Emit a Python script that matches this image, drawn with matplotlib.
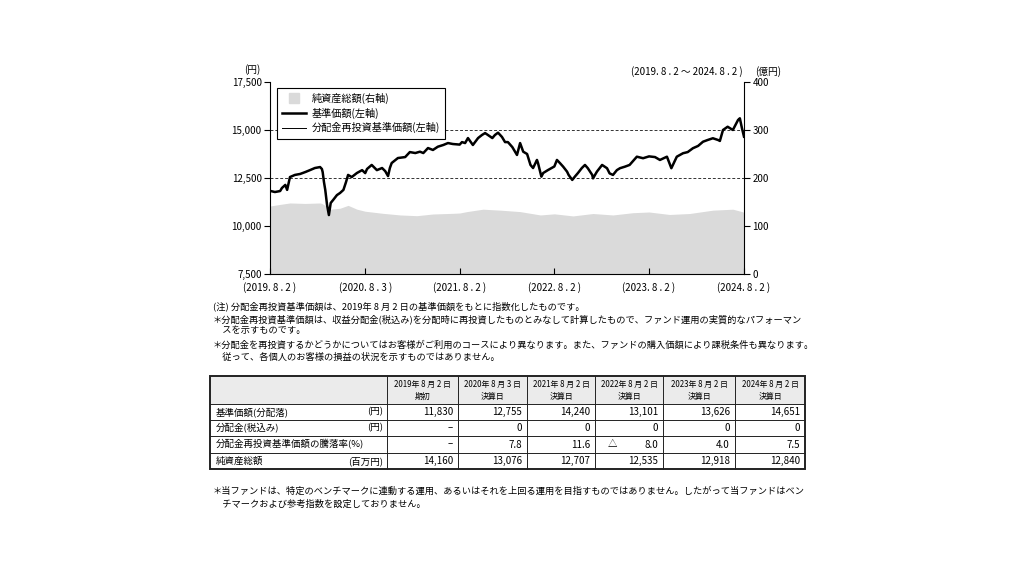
import matplotlib
matplotlib.use("Agg")
import matplotlib.pyplot as plt
import pandas as pd
from matplotlib.lines import Line2D

plt.rcParams['font.family'] = ['Noto Sans CJK JP', 'DejaVu Sans']

# ---------------- data ----------------
price_dates = [
    "2019-08-02", "2019-08-21", "2019-09-10", "2019-09-17", "2019-09-30", "2019-10-07", "2019-10-18",
    "2019-11-06", "2019-11-26", "2019-12-16", "2020-01-03", "2020-01-22", "2020-02-11", "2020-02-18",
    "2020-02-21", "2020-02-26", "2020-03-02", "2020-03-09", "2020-03-16", "2020-03-23", "2020-04-01",
    "2020-04-16", "2020-04-28", "2020-05-11", "2020-05-21", "2020-05-29", "2020-06-12", "2020-07-02",
    "2020-07-22", "2020-08-03", "2020-08-10", "2020-08-28", "2020-09-17", "2020-10-07", "2020-10-19",
    "2020-10-30", "2020-11-06", "2020-11-13", "2020-12-07", "2021-01-04", "2021-01-22", "2021-02-12",
    "2021-03-02", "2021-03-15", "2021-04-02", "2021-04-21", "2021-05-10", "2021-05-31", "2021-06-18",
    "2021-07-07", "2021-08-02", "2021-08-11", "2021-08-23", "2021-09-03", "2021-09-22", "2021-10-12",
    "2021-10-27", "2021-11-08", "2021-11-19", "2021-12-06", "2021-12-16", "2021-12-28", "2022-01-12",
    "2022-01-24", "2022-02-04", "2022-02-21", "2022-03-11", "2022-03-23", "2022-04-04", "2022-04-19",
    "2022-05-02", "2022-05-12", "2022-05-27", "2022-05-31", "2022-06-13", "2022-06-20", "2022-07-08",
    "2022-08-02", "2022-08-12", "2022-08-24", "2022-09-05", "2022-09-20", "2022-09-26", "2022-10-10",
    "2022-10-20", "2022-11-01", "2022-11-16", "2022-11-28", "2022-12-09", "2022-12-26", "2022-12-29",
    "2023-01-13", "2023-02-02", "2023-02-21", "2023-03-03", "2023-03-16", "2023-03-31", "2023-04-12",
    "2023-05-01", "2023-05-19", "2023-06-16", "2023-07-10", "2023-08-02", "2023-08-25", "2023-09-13",
    "2023-10-10", "2023-10-27", "2023-11-17", "2023-12-11", "2023-12-29", "2024-01-18", "2024-02-07",
    "2024-02-26", "2024-03-15", "2024-04-04", "2024-04-24", "2024-05-01", "2024-05-13", "2024-05-31",
    "2024-06-20", "2024-07-10", "2024-07-17", "2024-07-25", "2024-08-02",
]
price_values = [
    11830, 11770, 11820, 11980, 12140, 11880, 12550,
    12660, 12710, 12810, 12910, 13020, 13070, 12970,
    12810, 12290, 11880, 11090, 10570, 11200, 11350,
    11610, 11720, 11880, 12290, 12660, 12550, 12760,
    12910, 12755, 12970, 13180, 12910, 13020, 12860,
    12600, 13020, 13280, 13540, 13590, 13850, 13800,
    13870, 13800, 14060, 13960, 14130, 14220, 14320,
    14270, 14240, 14370, 14320, 14580, 14220, 14580,
    14740, 14840, 14740, 14580, 14740, 14860, 14640,
    14370, 14370, 14110, 13700, 14320, 13870, 13750,
    13180, 13020, 13440, 13280, 12570, 12760, 12910,
    13101, 13440, 13270, 13090, 12830, 12660, 12400,
    12570, 12760, 13020, 13180, 13010, 12660, 12480,
    12830, 13180, 13010, 12740, 12660, 12910, 13010,
    13090, 13180, 13610, 13530, 13626, 13590, 13440,
    13610, 13010, 13610, 13790, 13850, 14050, 14170,
    14390, 14480, 14570, 14480, 14430, 15000, 15170,
    15000, 15520, 15610, 15100, 14651,
]
# no distributions were paid, so the reinvested NAV equals the NAV
reinvest_values = list(price_values)

asset_dates = [
    "2019-08-02", "2019-09-10", "2019-10-18", "2019-12-16", "2020-02-11", "2020-02-18", "2020-03-09",
    "2020-03-23", "2020-04-28", "2020-05-29", "2020-07-02", "2020-08-03", "2020-10-10", "2020-12-16",
    "2021-02-18", "2021-04-21", "2021-07-07", "2021-08-02", "2021-08-30", "2021-10-31", "2022-01-06",
    "2022-03-23", "2022-06-09", "2022-08-02", "2022-10-13", "2022-12-29", "2023-03-16", "2023-06-01",
    "2023-08-02", "2023-10-20", "2024-01-05", "2024-04-04", "2024-06-20", "2024-07-25", "2024-08-02",
]
asset_values = [  # 億円
    141.6, 145, 148, 147, 148, 147, 140,
    135, 137, 143, 135, 130.76, 126.4, 123,
    121.5, 125, 126.4, 127.07, 130, 135, 133,
    130, 123, 125.35, 121, 126, 123, 127.7,
    129.18, 124, 126, 133, 135, 130, 128.4,
]

x_tick_dates = ["2019-08-02", "2020-08-03", "2021-08-02", "2022-08-02", "2023-08-02", "2024-08-02"]
x_tick_labels = ["(2019. 8 . 2 )", "(2020. 8 . 3 )", "(2021. 8 . 2 )",
                 "(2022. 8 . 2 )", "(2023. 8 . 2 )", "(2024. 8 . 2 )"]
left_ticks = [7500, 10000, 12500, 15000, 17500]
right_ticks = [0, 100, 200, 300, 400]
ref_levels = [12500, 15000]

legend_labels = ["純資産総額(右軸)", "基準価額(左軸)", "分配金再投資基準価額(左軸)"]

notes_top = [
    "(注) 分配金再投資基準価額は、2019年 8 月 2 日の基準価額をもとに指数化したものです。",
    "＊分配金再投資基準価額は、収益分配金(税込み)を分配時に再投資したものとみなして計算したもので、ファンド運用の実質的なパフォーマン",
    "　スを示すものです。",
    "＊分配金を再投資するかどうかについてはお客様がご利用のコースにより異なります。また、ファンドの購入価額により課税条件も異なります。",
    "　従って、各個人のお客様の損益の状況を示すものではありません。",
]
notes_bottom = [
    "＊当ファンドは、特定のベンチマークに連動する運用、あるいはそれを上回る運用を目指すものではありません。したがって当ファンドはベン",
    "　チマークおよび参考指数を設定しておりません。",
]

table_dates = ["2019年 8 月 2 日", "2020年 8 月 3 日", "2021年 8 月 2 日",
               "2022年 8 月 2 日", "2023年 8 月 2 日", "2024年 8 月 2 日"]
table_kinds = ["期初", "決算日", "決算日", "決算日", "決算日", "決算日"]
row_labels = ["基準価額(分配落)", "分配金(税込み)", "分配金再投資基準価額の騰落率(%)", "純資産総額"]
row_units = ["(円)", "(円)", "", "(百万円)"]
tbl_nav = [11830, 12755, 14240, 13101, 13626, 14651]
tbl_dist = [None, 0, 0, 0, 0, 0]
tbl_ret = [None, 7.8, 11.6, -8.0, 4.0, 7.5]
tbl_assets = [14160, 13076, 12707, 12535, 12918, 12840]

# ---------------- figure ----------------
W, H = 1024, 576
fig = plt.figure(figsize=(W / 100, H / 100), dpi=100)
fig.patch.set_facecolor('white')

ax = fig.add_axes([270 / W, 1 - 274 / H, 474 / W, 192 / H])
ax2 = ax.twinx()

pdts = pd.to_datetime(price_dates)
adts = pd.to_datetime(asset_dates)

ax2.fill_between(adts, 0, asset_values, color='#dadada', lw=0)
ax.set_zorder(ax2.get_zorder() + 1)
ax.patch.set_visible(False)

for lv in ref_levels:
    ax.axhline(lv, color='#333333', lw=0.7, ls=(0, (3, 2)), zorder=1)
ax.plot(pdts, price_values, color='black', lw=1.8, zorder=3)
ax.plot(pdts, reinvest_values, color='black', lw=0.6, zorder=4)

ax.set_xlim(pd.Timestamp(x_tick_dates[0]), pd.Timestamp(x_tick_dates[-1]))
ax.set_ylim(left_ticks[0], left_ticks[-1])
ax2.set_ylim(right_ticks[0], right_ticks[-1])

ax.set_yticks(left_ticks)
ax.set_yticklabels([f"{v:,}" for v in left_ticks])
ax2.set_yticks(right_ticks)
ax2.set_yticklabels([str(v) for v in right_ticks])
ax.set_xticks(pd.to_datetime(x_tick_dates))
ax.set_xticklabels(x_tick_labels)

for a in (ax, ax2):
    a.spines['top'].set_visible(False)
    for s in a.spines.values():
        s.set_linewidth(0.8)
        s.set_color('black')
ax.spines['right'].set_visible(False)
ax2.spines['left'].set_visible(False)
ax2.spines['bottom'].set_visible(False)

ax.tick_params(axis='y', direction='out', length=4, width=0.8, labelsize=7, pad=2)
ax2.tick_params(axis='y', direction='out', length=4, width=0.8, labelsize=7, pad=2)
ax.tick_params(axis='x', direction='in', length=4, width=0.8, labelsize=7, pad=6)

handles = [Line2D([], [], marker='s', color='#dadada', ls='none', markersize=7.5),
           Line2D([], [], color='black', lw=1.8),
           Line2D([], [], color='black', lw=0.7)]
leg = ax.legend(handles, legend_labels, loc='upper left', bbox_to_anchor=(0.0148, 0.969),
                borderaxespad=0, frameon=True, fancybox=False, edgecolor='black', framealpha=1,
                fontsize=7.3, handlelength=2.4, handletextpad=0.5, labelspacing=0.35, borderpad=0.5)
leg.get_frame().set_linewidth(0.8)

# ---------------- overlay for texts and table ----------------
lay = fig.add_axes([0, 0, 1, 1], zorder=-5)
lay.set_xlim(0, W)
lay.set_ylim(H, 0)
lay.axis('off')

lay.text(252, 70, "(円)", ha='center', va='center', fontsize=7)
lay.text(743, 72, "(2019. 8 . 2 ～ 2024. 8 . 2 )", ha='right', va='center', fontsize=7)
lay.text(768, 72, "(億円)", ha='center', va='center', fontsize=7)

note_y = [306, 319, 331, 345, 357]
for y, t in zip(note_y, notes_top):
    lay.text(213, y, t, ha='left', va='center', fontsize=6.65)
for y, t in zip([491, 504], notes_bottom):
    lay.text(213, y, t, ha='left', va='center', fontsize=6.65)

col_edges = [210, 387, 458, 527, 595, 663, 735, 805]
row_edges = [376, 404, 420, 436, 453, 469]

lay.add_patch(plt.Rectangle((col_edges[0], row_edges[0]), col_edges[-1] - col_edges[0],
                            row_edges[1] - row_edges[0], facecolor='#ebebeb', edgecolor='none'))
for y in row_edges[1:-1]:
    lay.plot([col_edges[0], col_edges[-1]], [y, y], color='#222222', lw=0.7)
for x in col_edges[1:-1]:
    lay.plot([x, x], [row_edges[0], row_edges[-1]], color='#222222', lw=0.7)
lay.add_patch(plt.Rectangle((col_edges[0], row_edges[0]), col_edges[-1] - col_edges[0],
                            row_edges[-1] - row_edges[0], facecolor='none', edgecolor='#222222', lw=1.4))

for i in range(6):
    cx = (col_edges[i + 1] + col_edges[i + 2]) / 2
    lay.text(cx, 384, table_dates[i], ha='center', va='center', fontsize=5.7)
    lay.text(cx, 396, table_kinds[i], ha='center', va='center', fontsize=5.7)

row_mid = [(row_edges[k + 1] + row_edges[k + 2]) / 2 for k in range(4)]
for k in range(4):
    lay.text(216, row_mid[k], row_labels[k], ha='left', va='center', fontsize=6.8)
    if row_units[k]:
        lay.text(383, row_mid[k], row_units[k], ha='right', va='center', fontsize=6.8)

def fmt_int(v):
    return "–" if v is None else f"{v:,}"

rows_vals = [tbl_nav, tbl_dist, tbl_ret, tbl_assets]
for k, vals in enumerate(rows_vals):
    for i, v in enumerate(vals):
        xr = col_edges[i + 2] - 5
        if k == 2:
            if v is None:
                s = "–"
            else:
                s = f"{abs(v):.1f}"
                if v < 0:
                    lay.text(col_edges[i + 1] + 13, row_mid[k], "△", ha='left', va='center', fontsize=6.8)
        else:
            s = fmt_int(v)
        lay.text(xr, row_mid[k], s, ha='right', va='center', fontsize=7)

fig.savefig("out.png", dpi=100, facecolor='white')
